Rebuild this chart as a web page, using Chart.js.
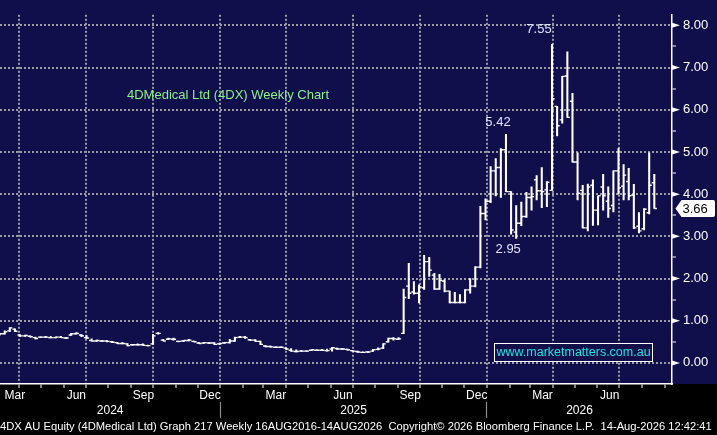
<!DOCTYPE html>
<html>
<head>
<meta charset="utf-8">
<title>4DX weekly</title>
<script src="https://cdn.jsdelivr.net/npm/chart.js@4.4.1/dist/chart.umd.min.js"></script>
<style>
  html, body { margin: 0; padding: 0; background: #000; }
  canvas { display: block; }
</style>
</head>
<body>
<canvas id="chart" width="717" height="435"></canvas>
<script>
// Weekly OHLC for 4DX AU, bar 0 = week of 1 Mar 2024, last bar = week of 14 Aug 2026
const opens = [
  .67, .69, .76, .80, .66, .64, .63, .60, .61, .61,
  .60, .60, .61, .59, .66, .69, .66, .60, .53, .52,
  .52, .52, .50, .48, .46, .45, .43, .43, .43, .41,
  .45, .70, .54, .56, .56, .51, .52, .53, .51, .47,
  .47, .47, .47, .45, .47, .48, .52, .61, .61, .55,
  .54, .51, .40, .39, .37, .37, .35, .30, .27, .28,
  .28, .30, .30, .30, .29, .33, .34, .33, .32, .29,
  .27, .25, .26, .28, .32, .35, .50, .58, .56, .70,
  1.82, 1.68, 1.65, 1.78, 2.40, 2.08, 1.75, 1.94, 1.70, 1.43,
  1.43, 1.43, 1.73, 1.82, 2.27, 3.54, 3.83, 4.55, 4.63, 5.05,
  4.06, 3.10, 3.31, 3.47, 3.92, 4.34, 4.08, 4.10, 4.09, 6.08,
  5.76, 6.80, 6.20, 4.76, 4.09, 3.20, 4.21, 3.62, 4.17, 3.83,
  3.73, 4.55, 4.19, 4.30, 3.98, 3.24, 3.18, 3.56, 4.27
];
const highs = [
  .70, .76, .84, .81, .67, .66, .64, .61, .62, .63,
  .63, .62, .63, .60, .70, .72, .67, .65, .57, .54,
  .53, .53, .51, .49, .48, .46, .44, .45, .45, .42,
  .68, .72, .56, .59, .59, .52, .53, .56, .52, .48,
  .49, .48, .48, .47, .48, .56, .61, .63, .63, .56,
  .55, .52, .41, .40, .38, .38, .36, .34, .31, .30,
  .29, .31, .31, .32, .33, .37, .35, .34, .33, .30,
  .28, .26, .27, .32, .36, .46, .59, .60, .60, 1.75,
  2.36, 1.93, 1.85, 2.55, 2.50, 2.12, 2.10, 1.97, 1.70, 1.67,
  1.62, 1.74, 2.00, 2.28, 3.71, 3.89, 4.65, 4.84, 5.08, 5.42,
  4.06, 3.73, 3.81, 4.04, 4.17, 4.44, 4.63, 4.30, 7.55, 6.08,
  6.79, 7.37, 6.39, 4.98, 4.21, 4.24, 4.34, 3.96, 4.47, 4.17,
  4.55, 5.08, 4.70, 4.61, 4.23, 3.56, 3.66, 4.98, 4.47
];
const lows = [
  .66, .68, .74, .74, .63, .63, .61, .57, .60, .60,
  .59, .59, .60, .58, .65, .68, .62, .58, .52, .51,
  .51, .50, .48, .46, .45, .40, .42, .42, .42, .40,
  .44, .68, .52, .55, .54, .50, .51, .52, .50, .46,
  .46, .46, .43, .44, .46, .47, .51, .60, .58, .53,
  .51, .43, .38, .37, .36, .36, .32, .27, .26, .27,
  .27, .29, .29, .29, .28, .28, .32, .32, .30, .27,
  .25, .24, .25, .27, .31, .34, .49, .54, .55, .69,
  1.52, 1.63, 1.42, 1.74, 2.05, 1.74, 1.74, 1.68, 1.42, 1.42,
  1.42, 1.42, 1.65, 1.80, 2.25, 3.39, 3.80, 3.96, 3.92, 4.06,
  3.05, 2.95, 3.25, 3.45, 3.62, 3.86, 3.68, 3.70, 4.09, 5.38,
  5.68, 5.82, 4.76, 3.86, 3.20, 3.13, 3.26, 3.27, 3.62, 3.45,
  3.58, 4.00, 3.86, 3.86, 3.18, 3.08, 3.15, 3.53, 3.66
];
const closes = [
  .69, .74, .83, .75, .64, .65, .62, .58, .61, .61,
  .60, .61, .60, .59, .69, .70, .64, .59, .52, .53,
  .52, .51, .49, .46, .46, .41, .43, .43, .42, .41,
  .64, .70, .52, .57, .56, .51, .53, .54, .50, .46,
  .48, .47, .44, .46, .48, .52, .60, .61, .60, .54,
  .51, .44, .39, .38, .37, .37, .33, .28, .27, .28,
  .28, .31, .30, .30, .29, .36, .33, .33, .31, .28,
  .26, .25, .26, .31, .33, .45, .58, .57, .57, 1.55,
  1.65, 1.65, 1.80, 2.40, 2.20, 1.75, 1.95, 1.70, 1.43, 1.43,
  1.43, 1.73, 1.82, 2.27, 3.54, 3.83, 4.55, 4.63, 5.05, 4.06,
  3.15, 3.31, 3.47, 3.92, 3.94, 4.08, 4.06, 4.28, 6.26, 5.62,
  6.79, 5.82, 4.76, 4.02, 3.20, 4.17, 3.62, 3.96, 3.96, 3.66,
  4.55, 4.15, 4.45, 3.96, 3.20, 3.13, 3.64, 4.21, 3.66
];

const monthNames = ['Jan', 'Feb', 'Mar', 'Apr', 'May', 'Jun', 'Jul', 'Aug', 'Sep', 'Oct', 'Nov', 'Dec'];
const labelledMonths = [2, 5, 8, 11];   // Mar, Jun, Sep, Dec
const years = [2024, 2025, 2026];
const priceLevels = [0, 1, 2, 3, 4, 5, 6, 7, 8];

const chartTitle = '4DMedical Ltd (4DX) Weekly Chart';
const siteText = 'www.marketmatters.com.au';
const footerText = '4DX AU Equity (4DMedical Ltd) Graph 217 Weekly 16AUG2016-14AUG2026  Copyright\u00a9 2026 Bloomberg Finance L.P.  14-Aug-2026 12:42:41';

// look
const NAVY = '#100f4b';
const GRID = '#9c9ca4';
const WHITE = '#ffffff';
const FONT = '"Liberation Sans", Arial, sans-serif';
const DASH = [2, 2];

// time axis in week units, bar i sits at x = i
const DAY = 864e5;
const BAR0 = Date.UTC(2024, 2, 5);
const wk = t => (t - BAR0) / (7 * DAY);
const X_MIN = 0.08, X_MAX = 131.46;

const monthTicks = [];
const monthLabelTicks = [];
years.forEach(y => {
  for (let m = 0; m < 12; m++) {
    const v = wk(Date.UTC(y, m, 1));
    if (v > X_MIN && v < X_MAX) monthTicks.push({ value: v, quarter: m % 3 === 0 });
    if (labelledMonths.includes(m)) {
      const c = wk(Date.UTC(y, m, 18));
      if (c > X_MIN && c < X_MAX) monthLabelTicks.push({ value: Math.max(c, X_MIN + 2.9), text: monthNames[m] });
    }
  }
});

const yearTicks = [];
years.forEach((y, k) => {
  const a = Math.max(wk(Date.UTC(y, 0, 1)), X_MIN);
  const b = Math.min(wk(Date.UTC(y + 1, 0, 1)), X_MAX);
  yearTicks.push({ value: (a + b) / 2, text: String(y) });
  if (k > 0) yearTicks.push({ value: wk(Date.UTC(y, 0, 1)), text: '', sep: true });
});
yearTicks.sort((p, q) => p.value - q.value);

// footer sized to span the full width
const meas = document.createElement('canvas').getContext('2d');
meas.font = '11px ' + FONT;
const footSize = Math.min(12, 11 * 712 / meas.measureText(footerText).width);

// callouts: top, the high before it, and the low in between
const peak = highs.indexOf(Math.max(...highs));
const before = highs.slice(0, peak);
const prior = before.indexOf(Math.max(...before));
const gap = lows.slice(prior, peak);
const trough = prior + gap.indexOf(Math.min(...gap));
const callouts = [
  { i: peak, v: highs[peak], dx: -13, dy: -15 },
  { i: prior, v: highs[prior], dx: -8, dy: -12 },
  { i: trough, v: lows[trough], dx: -8, dy: 11 }
];

const bbgDecor = {
  id: 'bbgDecor',
  beforeDraw(chart) {
    const { ctx, width, height, chartArea: a } = chart;
    ctx.save();
    ctx.fillStyle = '#000';
    ctx.fillRect(0, 0, width, height);
    ctx.fillStyle = NAVY;
    ctx.fillRect(0, 0, width, a.bottom);
    ctx.restore();
  },
  afterDraw(chart) {
    const { ctx, chartArea: a, scales } = chart;
    const x = scales.x, y = scales.y;
    ctx.save();

    // arrow heads on the price axis
    ctx.fillStyle = WHITE;
    priceLevels.forEach(p => {
      const py = y.getPixelForValue(p);
      ctx.beginPath();
      ctx.moveTo(a.right, py - 2.5);
      ctx.lineTo(a.right + 8, py);
      ctx.lineTo(a.right, py + 2.5);
      ctx.closePath();
      ctx.fill();
    });

    // price callouts
    ctx.font = '13px ' + FONT;
    ctx.fillStyle = '#dde5ff';
    ctx.textAlign = 'center';
    ctx.textBaseline = 'middle';
    callouts.forEach(c => {
      ctx.fillText(c.v.toFixed(2), x.getPixelForValue(c.i) + c.dx, y.getPixelForValue(c.v) + c.dy);
    });

    // chart title
    ctx.fillStyle = '#8cf08c';
    ctx.textAlign = 'left';
    ctx.fillText(chartTitle, a.left + 127, a.top + 81);

    // site box
    const bx = a.right - 178, by = a.bottom - 41, bw = 158, bh = 18;
    ctx.fillStyle = NAVY;
    ctx.fillRect(bx, by, bw, bh);
    ctx.strokeStyle = WHITE;
    ctx.lineWidth = 1;
    ctx.strokeRect(bx + 0.5, by + 0.5, bw, bh);
    ctx.font = '12.5px ' + FONT;
    ctx.fillStyle = '#1de2e2';
    ctx.textAlign = 'center';
    ctx.fillText(siteText, bx + bw / 2 + 0.5, by + bh / 2 + 1);

    // last price tag
    const last = closes[closes.length - 1];
    const ly = y.getPixelForValue(last);
    const tx = a.right + 3.5, tr = a.right + 43;
    ctx.fillStyle = WHITE;
    ctx.beginPath();
    ctx.moveTo(tx, ly);
    ctx.lineTo(tx + 6, ly - 8.5);
    ctx.lineTo(tr - 2, ly - 8.5);
    ctx.quadraticCurveTo(tr, ly - 8.5, tr, ly - 6.5);
    ctx.lineTo(tr, ly + 6.5);
    ctx.quadraticCurveTo(tr, ly + 8.5, tr - 2, ly + 8.5);
    ctx.lineTo(tx + 6, ly + 8.5);
    ctx.closePath();
    ctx.fill();
    ctx.font = '13px ' + FONT;
    ctx.fillStyle = '#000';
    ctx.textAlign = 'left';
    ctx.fillText(last.toFixed(2), tx + 7, ly + 0.5);

    ctx.restore();
  }
};

const rangeData = highs.map((h, i) => ({ x: i, y: [lows[i], h] }));
const openData = opens.map((o, i) => ({ x: i - 0.25, y: o }));
const closeData = closes.map((c, i) => ({ x: i + 0.25, y: c }));

const tickPoint = {
  type: 'scatter',
  pointStyle: 'line',
  pointRadius: 1.3,
  pointBorderWidth: 1.4,
  pointBorderColor: WHITE,
  pointBackgroundColor: WHITE,
  xAxisID: 'x',
  yAxisID: 'y'
};

// shared settings for the three stacked time axes
const timeAxis = { type: 'linear', position: 'bottom', min: X_MIN, max: X_MAX, bounds: 'data', offset: false };

new Chart(document.getElementById('chart'), {
  type: 'bar',
  data: {
    datasets: [
      { type: 'bar', data: rangeData, backgroundColor: WHITE, borderWidth: 0, barThickness: 1.4, grouped: false, xAxisID: 'x', yAxisID: 'y' },
      Object.assign({ data: openData }, tickPoint),
      Object.assign({ data: closeData }, tickPoint)
    ]
  },
  options: {
    responsive: false,
    animation: false,
    events: [],
    layout: { padding: 0, autoPadding: false },
    plugins: {
      legend: { display: false },
      tooltip: { enabled: false },
      title: {
        display: true,
        position: 'bottom',
        align: 'start',
        text: footerText,
        color: WHITE,
        font: { family: FONT, size: footSize, weight: 'normal', lineHeight: '13px' },
        padding: { top: 0, bottom: 2 }
      }
    },
    scales: {
      x: Object.assign({}, timeAxis, {
        weight: 0,
        afterBuildTicks: s => { s.ticks = monthTicks.map(t => ({ value: t.value, quarter: t.quarter })); },
        afterFit: s => { s.height = 4; },
        ticks: { display: false },
        grid: {
          offset: false,
          color: c => (c.tick && c.tick.quarter ? GRID : 'transparent'),
          lineWidth: 2, drawTicks: true, tickLength: 4, tickColor: WHITE, tickWidth: 1
        },
        border: { display: true, color: WHITE, width: 1.5, dash: DASH }
      }),
      xm: Object.assign({}, timeAxis, {
        weight: 1,
        afterBuildTicks: s => { s.ticks = monthLabelTicks.map(t => ({ value: t.value, text: t.text })); },
        afterFit: s => { s.height = 14; },
        grid: { display: false, offset: false, drawOnChartArea: false, drawTicks: false },
        border: { display: false },
        ticks: {
          autoSkip: false, maxRotation: 0, padding: 0, color: WHITE,
          font: { family: FONT, size: 12 },
          callback: (v, i, t) => t[i].text
        }
      }),
      xy: Object.assign({}, timeAxis, {
        weight: 2,
        afterBuildTicks: s => { s.ticks = yearTicks.map(t => ({ value: t.value, text: t.text, sep: !!t.sep })); },
        afterFit: s => { s.height = 18; },
        grid: {
          display: true, offset: false, drawOnChartArea: false, drawTicks: true, tickLength: 16,
          tickColor: c => (c.tick && c.tick.sep ? '#8c8c8c' : 'transparent'), tickWidth: 1.2
        },
        border: { display: false },
        ticks: {
          autoSkip: false, maxRotation: 0, padding: -15, color: WHITE,
          font: { family: FONT, size: 12 },
          callback: (v, i, t) => t[i].text
        }
      }),
      y: {
        type: 'linear', position: 'right', min: -0.5, max: 8.25, bounds: 'data',
        afterBuildTicks: s => {
          const t = [];
          for (let v = 0; v <= 8; v += 0.5) t.push({ value: v });
          s.ticks = t;
        },
        afterFit: s => { s.width = 45; },
        grid: {
          color: c => (c.tick && Number.isInteger(c.tick.value) ? GRID : 'transparent'),
          lineWidth: 2, drawTicks: true, tickLength: 4, tickColor: WHITE, tickWidth: 1
        },
        border: { display: true, color: WHITE, width: 1.5, dash: DASH },
        ticks: {
          padding: 7, color: WHITE,
          font: { family: FONT, size: 13 },
          callback: v => (Number.isInteger(v) ? v.toFixed(2) : '')
        }
      }
    }
  },
  plugins: [bbgDecor]
});
</script>
</body>
</html>
